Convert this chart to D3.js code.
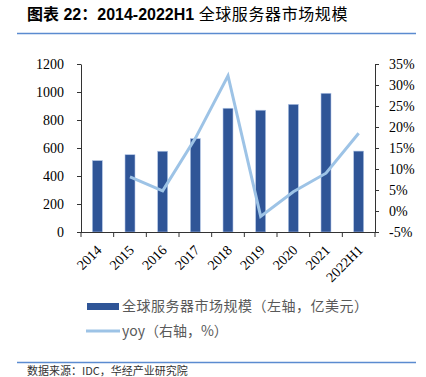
<!DOCTYPE html>
<html>
<head>
<meta charset="utf-8">
<script src="https://cdn.jsdelivr.net/npm/d3@7"></script>
<style>
  body { margin: 0; background: #fff; }
  svg { display: block; }
</style>
</head>
<body>
<div id="chart"></div>
<script>
const years = ['2014', '2015', '2016', '2017', '2018', '2019', '2020', '2021', '2022H1'];
const marketSize = [510, 552, 577, 667, 884, 870, 912, 991, 578];
const yoyYears = ['2015', '2016', '2017', '2018', '2019', '2020', '2021', '2022H1'];
const yoyPct = [8.1, 4.8, 17.3, 32.2, -1.3, 4.6, 9.0, 18.5];
const leftTicks = [0, 200, 400, 600, 800, 1000, 1200];
const rightTicks = [-5, 0, 5, 10, 15, 20, 25, 30, 35];

const W = 426, H = 377;
const L = 81, R = 375, TOP = 64, BOT = 232;
const CJK = '"Noto Sans CJK SC", sans-serif';
const SERIF = '"Liberation Serif", "Times New Roman", serif';

const svg = d3.select('#chart').append('svg')
  .attr('width', W).attr('height', H);

// title + rules
const title = svg.append('text')
  .attr('x', 27).attr('y', 20)
  .attr('font-size', 16)
  .attr('fill', '#000');
title.append('tspan')
  .attr('font-family', '"Liberation Sans", ' + CJK)
  .attr('font-weight', 'bold')
  .text('图表 22：2014-2022H1 ');
title.append('tspan')
  .attr('font-family', CJK)
  .attr('font-weight', 400)
  .attr('letter-spacing', 0.6)
  .text('全球服务器市场规模');

svg.append('line').attr('x1', 17).attr('x2', 416).attr('y1', 33.5).attr('y2', 33.5)
  .attr('stroke', '#5b8bd0').attr('stroke-width', 1.5);
svg.append('line').attr('x1', 17).attr('x2', 416).attr('y1', 362.5).attr('y2', 362.5)
  .attr('stroke', '#5b8bd0').attr('stroke-width', 1.5);

svg.append('text')
  .attr('x', 27).attr('y', 375)
  .attr('font-family', CJK).attr('font-size', 11).attr('fill', '#333')
  .text('数据来源：IDC，华经产业研究院');

const x = d3.scaleBand().domain(years).range([L, R]).padding(0);
const yL = d3.scaleLinear().domain([0, 1200]).range([BOT, TOP]);
const yR = d3.scaleLinear().domain([-5, 35]).range([BOT, TOP]);

// bars
const BW = 10;
svg.selectAll('rect.bar')
  .data(years.map((y, i) => ({ y, v: marketSize[i] })))
  .enter().append('rect')
  .attr('class', 'bar')
  .attr('x', d => x(d.y) + x.bandwidth() / 2 - BW / 2)
  .attr('width', BW)
  .attr('y', d => yL(d.v))
  .attr('height', d => yL(0) - yL(d.v))
  .attr('fill', '#2f5597')
  .attr('stroke', '#b4c7e7')
  .attr('stroke-width', 0.6);

// yoy line
const line = d3.line()
  .x(d => x(d.y) + x.bandwidth() / 2)
  .y(d => yR(d.v));
svg.append('path')
  .datum(yoyYears.map((y, i) => ({ y, v: yoyPct[i] })))
  .attr('d', line)
  .attr('fill', 'none')
  .attr('stroke', '#9dc3e6')
  .attr('stroke-width', 3)
  .attr('stroke-linejoin', 'miter');

// axes
const styleAxis = g => {
  g.select('.domain').attr('stroke', '#333').attr('stroke-width', 1);
  g.selectAll('.tick line').attr('stroke', '#333');
  g.selectAll('.tick text').attr('font-family', SERIF).attr('font-size', 14).attr('fill', '#000');
};

svg.append('g')
  .attr('transform', `translate(${L},0)`)
  .call(d3.axisLeft(yL).tickValues(leftTicks).tickFormat(d3.format('d')).tickSize(4).tickSizeOuter(0).tickPadding(13))
  .call(styleAxis);

svg.append('g')
  .attr('transform', `translate(${R},0)`)
  .call(d3.axisRight(yR).tickValues(rightTicks).tickFormat(d => d + '%').tickSize(4).tickSizeOuter(0).tickPadding(10))
  .call(styleAxis);

const xAxis = svg.append('g')
  .attr('transform', `translate(0,${BOT})`);
xAxis.append('line').attr('x1', L).attr('x2', R).attr('y1', 0.5).attr('y2', 0.5).attr('stroke', '#333');
xAxis.selectAll('line.tk')
  .data(years.concat(['end']))
  .enter().append('line')
  .attr('class', 'tk')
  .attr('x1', (d, i) => i < years.length ? x(d) : R)
  .attr('x2', (d, i) => i < years.length ? x(d) : R)
  .attr('y1', 0).attr('y2', 5)
  .attr('stroke', '#333');
xAxis.selectAll('text')
  .data(years)
  .enter().append('text')
  .attr('transform', d => `translate(${x(d) + x.bandwidth() / 2 + 5},${19}) rotate(-45)`)
  .attr('text-anchor', 'end')
  .attr('font-family', SERIF).attr('font-size', 14).attr('fill', '#000')
  .text(d => d);

// legend
const lg = svg.append('g').attr('font-family', CJK).attr('font-size', 14).attr('fill', '#595959');
lg.append('rect').attr('x', 87).attr('y', 303).attr('width', 32).attr('height', 7).attr('fill', '#2f5597');
lg.append('text').attr('x', 122).attr('y', 311).attr('letter-spacing', 0.5).text('全球服务器市场规模（左轴，亿美元）');
lg.append('line').attr('x1', 86).attr('x2', 120).attr('y1', 331).attr('y2', 331)
  .attr('stroke', '#9dc3e6').attr('stroke-width', 3);
lg.append('text').attr('x', 122).attr('y', 336).text('yoy（右轴，%）');
</script>
</body>
</html>
